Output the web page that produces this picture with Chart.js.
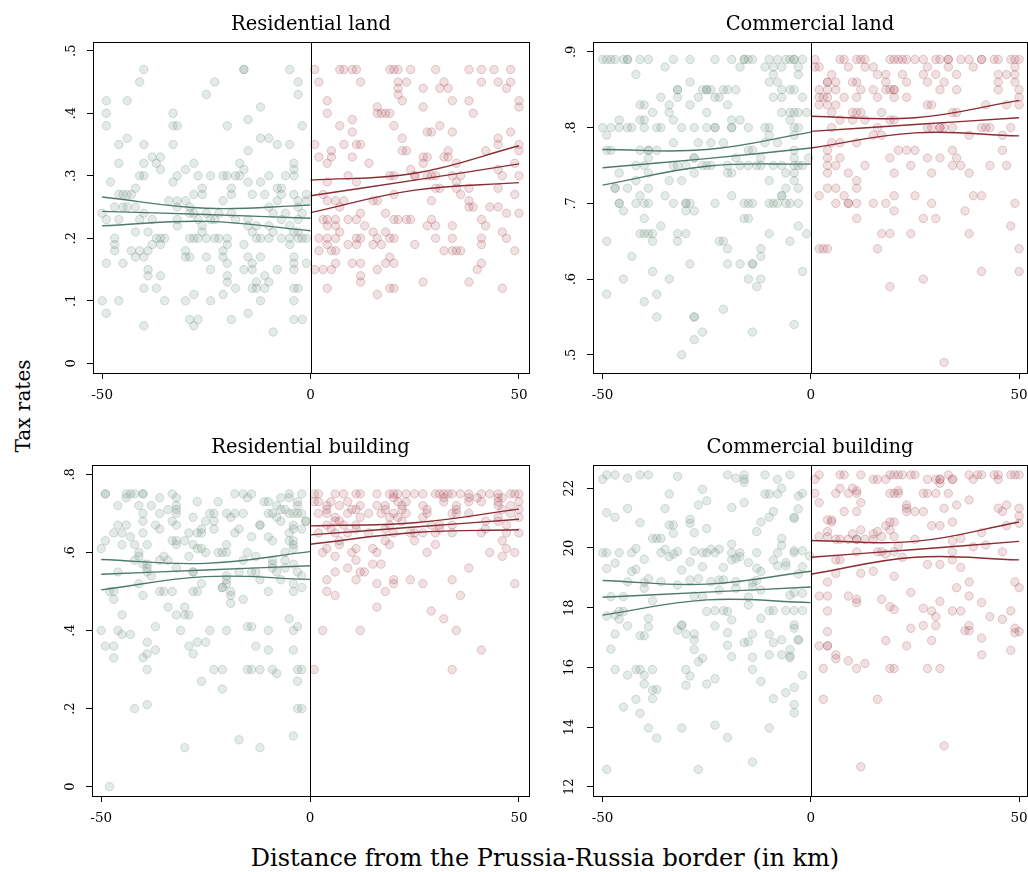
<!DOCTYPE html>
<html>
<head>
<meta charset="utf-8">
<script src="https://cdn.jsdelivr.net/npm/chart.js@4.4.0/dist/chart.umd.min.js"></script>
<style>
html, body { margin: 0; padding: 0; background: #fff; width: 1028px; height: 872px; overflow: hidden; }
#wrap { position: relative; width: 1028px; height: 872px; overflow: hidden; }
canvas { position: absolute; }
.lab { position: absolute; font-family: 'DejaVu Serif', serif; color: #000; white-space: nowrap; transform: translate(-50%, -50%); }
#ylab { left: 23px; top: 406px; font-size: 20px; transform: translate(-50%, -50%) rotate(-90deg); }
#xlab { left: 545px; top: 858px; font-size: 24px; }
</style>
</head>
<body>
<div id="wrap">
  <canvas id="c1" width="542" height="410" style="left:40px;top:0px"></canvas>
  <canvas id="c2" width="540" height="410" style="left:540px;top:0px"></canvas>
  <canvas id="c3" width="543" height="410" style="left:39px;top:423px"></canvas>
  <canvas id="c4" width="540" height="410" style="left:540px;top:423px"></canvas>
  <div class="lab" id="ylab">Tax rates</div>
  <div class="lab" id="xlab">Distance from the Prussia-Russia border (in km)</div>
</div>
<script>
// ticks
const xTicks = [-50, 0, 50];
const resLandTicks = [0, 0.1, 0.2, 0.3, 0.4, 0.5];
const comLandTicks = [0.5, 0.6, 0.7, 0.8, 0.9];
const resBldTicks = [0, 0.2, 0.4, 0.6, 0.8];
const comBldTicks = [12, 14, 16, 18, 20, 22];

// fitted line + bands, read at these distances: [upper, fit, lower]
const westX = [-50, -25, 0];
const eastX = [0, 25, 50];
const resLandFitW = [[0.266, 0.248, 0.253], [0.243, 0.238, 0.232], [0.220, 0.227, 0.212]];
const resLandFitE = [[0.293, 0.304, 0.348], [0.268, 0.293, 0.319], [0.241, 0.277, 0.289]];
const comLandFitW = [[0.771, 0.771, 0.794], [0.747, 0.759, 0.773], [0.724, 0.749, 0.752]];
const comLandFitE = [[0.815, 0.813, 0.836], [0.795, 0.804, 0.813], [0.773, 0.793, 0.789]];
const resBldFitW = [[0.582, 0.572, 0.602], [0.544, 0.555, 0.566], [0.504, 0.538, 0.531]];
const resBldFitE = [[0.668, 0.676, 0.711], [0.645, 0.665, 0.685], [0.621, 0.651, 0.658]];
const comBldFitW = [[18.91, 18.79, 19.22], [18.35, 18.52, 18.69], [17.75, 18.26, 18.17]];
const comBldFitE = [[20.25, 20.22, 20.87], [19.69, 19.95, 20.22], [19.12, 19.69, 19.60]];

// municipalities: [tax rate, [distances...]]
const resLandW = [
  [0.47, [-40, -16, -16, -5]], [0.45, [-41, -23, -3]], [0.43, [-25, -3]], [0.42, [-49, -44]],
  [0.41, [-12]], [0.40, [-49, -33]], [0.39, [-15]], [0.38, [-49, -33, -32, -20, -2]],
  [0.36, [-44, -12, -10]], [0.35, [-46, -40, -33, -8, -5]], [0.34, [-15]], [0.33, [-38, -36]],
  [0.32, [-46, -40, -37, -28, -17, -4]], [0.31, [-36, -30, -16, -4]],
  [0.30, [-41, -40, -32, -27, -24, -21, -20, -18, -17, -10, -6, -4]],
  [0.29, [-48, -33, -15, -12]], [0.28, [-42, -26, -19, -8, -7]],
  [0.27, [-46, -45, -44, -43, -28, -26, -19, -14, -11, -7, -4, -1]],
  [0.26, [-34, -32, -30, -21, -8, -3, -1]], [0.25, [-47, -45, -44, -42, -32, -29, -10, -3]],
  [0.24, [-50, -40, -29, -28, -25, -22, -19, -9, -6, -2]],
  [0.23, [-49, -46, -41, -38, -32, -27, -24, -23, -18, -15, -7, -3]],
  [0.22, [-32, -26, -15, -13, -10, -5]], [0.21, [-42, -39, -26, -14, -9, -4, -3]],
  [0.20, [-47, -37, -36, -35, -29, -28, -27, -25, -23, -22, -20, -13, -12, -10, -7, -5, -3, -2, -1]],
  [0.19, [-47, -38, -36, -20, -16, -5]], [0.18, [-47, -43, -41, -39, -30, -21]],
  [0.17, [-42, -40, -30, -29, -25, -21, -15, -12, -4]], [0.16, [-49, -45, -20, -14, -4, -1]],
  [0.15, [-39, -24, -16, -14, -8, -4]], [0.14, [-39, -36, -20, -11]], [0.13, [-20, -13, -10]],
  [0.12, [-40, -37, -18, -14, -13, -11, -4, -3]], [0.11, [-28, -21]],
  [0.10, [-50, -46, -35, -30, -24, -12, -4]], [0.08, [-49, -15]], [0.07, [-29, -27, -19, -4, -2]],
  [0.06, [-40, -28]], [0.05, [-9]]
];
const resLandE = [
  [0.47, [1, 7, 8, 10, 11, 19, 20, 21, 24, 30, 38, 41, 44, 48]], [0.45, [2, 12, 21, 23, 32, 41, 45, 48]],
  [0.44, [21, 27, 31, 33, 47]], [0.43, [21]], [0.42, [4, 22, 34, 38, 50]], [0.41, [16, 27, 50]],
  [0.40, [4, 16, 17, 18, 19, 39]], [0.39, [10]], [0.38, [7, 20, 31]], [0.37, [10, 28, 29, 34, 48]],
  [0.36, [22, 45]], [0.35, [1, 8, 11, 12, 45, 50]], [0.34, [5, 22, 23, 33, 42, 50]],
  [0.33, [2, 5, 10, 27, 28, 32, 33]], [0.32, [4, 14, 27, 35, 49]], [0.31, [24, 45]],
  [0.30, [9, 19, 20, 25, 25, 28, 29, 30, 34, 36, 46, 50]], [0.29, [4, 11, 35]],
  [0.28, [30, 31, 35, 38, 45]], [0.27, [3, 20, 36, 49]], [0.26, [4, 6, 8, 15, 16, 29, 38]],
  [0.25, [7, 38, 39, 43, 45]], [0.24, [12, 18, 47, 50]],
  [0.23, [3, 4, 6, 9, 11, 20, 21, 23, 24, 29, 41]], [0.22, [4, 6, 13, 28, 30, 34, 42]],
  [0.21, [7, 15, 18, 46]], [0.20, [2, 4, 6, 11, 12, 16, 19, 20, 30, 34, 41, 47]],
  [0.19, [4, 9, 11, 15, 17, 25, 41]], [0.18, [2, 5, 6, 32, 34, 35, 36, 49]], [0.17, [19]],
  [0.16, [6, 10, 12, 18, 20, 41]], [0.15, [1, 3, 5, 16, 40]], [0.14, [12]], [0.13, [12, 27, 38]],
  [0.12, [4, 19, 20, 46]], [0.11, [16]]
];
const comLandW = [
  [0.89, [-50, -49, -48, -47, -45, -44, -44, -41, -39, -33, -29, -23, -19, -16, -16, -15, -14, -10, -8, -6, -5, -4, -4, -2]],
  [0.88, [-35, -17, -11, -9, -7, -3]], [0.87, [-42, -9, -3]], [0.86, [-29, -10, -8]],
  [0.85, [-32, -32, -26, -25, -25, -24, -21, -20, -18, -7, -5, -4]],
  [0.84, [-36, -32, -27, -23, -22, -9, -7, -2]], [0.83, [-41, -40, -34, -29, -20]],
  [0.82, [-38, -34, -25, -7, -5, -4, -3, -1]], [0.81, [-46, -41, -40, -33, -19, -17, -5]],
  [0.80, [-50, -48, -46, -44, -43, -40, -37, -36, -31, -28, -25, -23, -23, -19, -19, -15, -11, -10, -4, -3]],
  [0.79, [-49, -10, -4]], [0.78, [-33, -27, -24, -21, -11, -8]],
  [0.77, [-49, -48, -41, -39, -39, -37, -15, -14, -4]], [0.76, [-39, -28, -28, -18, -12, -4, -0.5]],
  [0.75, [-42, -40, -33, -32, -30, -26, -25, -24, -20, -17, -15, -13, -12, -9, -7, -4, -3, -2]],
  [0.74, [-46, -39, -28, -20, -19, -6, -4]], [0.73, [-42, -34, -31, -10, -4]],
  [0.72, [-47, -47, -44, -39, -6, -3]], [0.71, [-41, -35, -19, -7, -7]],
  [0.70, [-46, -46, -42, -40, -39, -33, -30, -30, -29, -23, -16, -15, -14, -10, -9, -8, -6, -5, -3]],
  [0.69, [-45, -30, -28]], [0.68, [-40, -16, -15]], [0.67, [-36, -3]],
  [0.66, [-41, -40, -39, -38, -32, -30, -10, -1]], [0.65, [-49, -38, -32, -22, -21, -5]],
  [0.64, [-20, -12]], [0.63, [-43, -12]], [0.62, [-29, -20, -17, -14, -14]], [0.61, [-38, -2]],
  [0.60, [-45, -34, -15, -12]], [0.59, [-13]], [0.58, [-49, -37]], [0.57, [-40]], [0.56, [-21]],
  [0.55, [-37, -28, -28]], [0.54, [-4]], [0.53, [-26, -14]], [0.52, [-28]], [0.50, [-31]]
];
const comLandE = [
  [0.89, [1, 7, 8, 11, 12, 13, 19, 20, 21, 22, 23, 25, 27, 30, 31, 33, 33, 36, 38, 41, 41, 44, 45, 48, 49, 50]],
  [0.88, [1, 2, 9, 13, 15, 28, 33, 39, 49]], [0.87, [5, 16, 18, 22, 27, 30, 35, 45, 47, 49]],
  [0.86, [4, 4, 6, 10, 11, 18, 23, 28, 32, 45, 49]],
  [0.85, [2, 4, 6, 12, 15, 18, 19, 20, 20, 31, 35, 45, 50]], [0.84, [2, 3, 4, 8, 11, 16, 20, 23, 50]],
  [0.83, [2, 4, 6, 28, 29, 42, 47, 50]], [0.82, [5, 10, 11, 12, 17, 34, 35]], [0.81, [7, 10, 13, 19, 20]],
  [0.80, [5, 16, 28, 29, 31, 31, 32, 34, 41, 42, 43, 48]], [0.79, [15, 17, 38, 46]], [0.78, [5, 7, 11]],
  [0.77, [4, 21, 23, 25, 34, 46]], [0.76, [4, 7, 19, 28, 31, 35]], [0.75, [4, 6, 13, 24, 34, 36, 43, 47]],
  [0.74, [4, 9, 20, 29, 38]], [0.73, [11]], [0.72, [4, 6, 11]], [0.71, [2, 8, 20, 25, 39, 41]],
  [0.70, [6, 9, 9, 11, 15, 18, 29, 49]], [0.69, [20, 37]], [0.68, [11, 27, 30]], [0.67, [48]],
  [0.66, [17, 19, 24, 38]], [0.64, [2, 3, 4, 16, 50]], [0.61, [41, 50]], [0.60, [27]], [0.59, [19]],
  [0.49, [32]]
];
const resBldW = [
  [0.75, [-49, -49, -44, -43, -42, -40, -40, -33, -18, -16, -14, -5, -2]], [0.74, [-44, -36, -32, -15, -7, -5]],
  [0.73, [-27, -22, -11, -10, -3]], [0.72, [-46, -41, -38, -32, -8, -3]], [0.71, [-34, -32, -7, -6]],
  [0.70, [-40, -36, -32, -24, -23, -20, -18, -16, -10, -9, -5, -4, -3, -2]], [0.69, [-28, -19, -8]],
  [0.68, [-40, -33, -25, -23, -7, -1, -1]], [0.67, [-46, -44, -37, -32, -12, -12, -4]],
  [0.66, [-36, -26, -23, -17, -4, -2]], [0.65, [-47, -45, -40, -29, -27, -26, -18, -5]],
  [0.64, [-43, -14, -10]], [0.63, [-49, -33, -32, -30, -9, -5, -4]],
  [0.62, [-45, -42, -39, -32, -28, -20, -4]], [0.61, [-50, -27, -26, -4]],
  [0.60, [-41, -25, -22, -21, -20, -15, -6]], [0.59, [-41, -35, -29, -13]],
  [0.58, [-42, -36, -34, -16, -9, -6]], [0.57, [-40, -39, -9, -4]], [0.56, [-39, -32, -9, -6]],
  [0.55, [-46, -39, -28, -28, -17, -14, -13, -8, -3]], [0.54, [-38, -20, -2]], [0.53, [-20, -12, -7]],
  [0.52, [-41, -26, -20, -4]], [0.51, [-21, -21, -2]],
  [0.50, [-48, -47, -36, -35, -33, -28, -27, -19, -10, -4]], [0.49, [-40, -19]], [0.48, [-47, -16]],
  [0.47, [-19]], [0.46, [-34, -30]], [0.44, [-45, -32, -30, -29]], [0.43, [-5]],
  [0.41, [-37, -15, -14, -3]], [0.40, [-50, -46, -31, -24, -20, -10, -4]], [0.39, [-45, -43]],
  [0.37, [-39, -27, -25]], [0.36, [-49, -47, -29, -13]], [0.35, [-37, -10, -4]], [0.34, [-39, -28]],
  [0.33, [-47, -40]], [0.30, [-39, -23, -21, -15, -14, -12, -9, -3, -2]], [0.29, [-8]],
  [0.27, [-26, -3]], [0.25, [-21]], [0.21, [-39]], [0.20, [-42, -3, -2]], [0.13, [-4]],
  [0.12, [-17]], [0.10, [-30, -12]], [0, [-48]]
];
const resBldE = [
  [0.75, [1, 2, 6, 8, 11, 12, 16, 19, 20, 21, 23, 25, 27, 30, 31, 32, 33, 34, 36, 38, 41, 43, 45, 48, 49, 50]],
  [0.74, [20, 32, 38, 40, 45, 46]], [0.73, [1, 2, 5, 9, 21, 23, 32, 38, 41, 45, 50]],
  [0.72, [4, 7, 12, 16, 18, 22, 27, 35, 45, 48]], [0.71, [4, 10, 11, 18, 22, 28, 35, 46, 50]],
  [0.70, [2, 4, 9, 14, 17, 20, 23, 28, 34, 35, 38, 48]], [0.69, [6, 12, 19, 21, 27, 45, 50]],
  [0.68, [6, 7, 22, 42, 45]], [0.67, [4, 8, 11, 19, 29, 31, 34, 47]], [0.66, [5, 11, 18, 31, 42]],
  [0.65, [2, 6, 9, 14, 20, 24, 25, 27, 30, 34, 41, 47, 50]], [0.63, [7, 18, 25, 46]],
  [0.62, [7, 19, 30]], [0.61, [4, 11, 15, 47]], [0.60, [3, 10, 16, 28, 43, 49]], [0.59, [6, 46]],
  [0.58, [11]], [0.57, [15, 17]], [0.56, [9, 38]], [0.55, [6, 12, 13]], [0.53, [4, 11, 20, 24, 34]],
  [0.52, [16, 20, 27, 49]], [0.50, [4, 18]], [0.49, [6, 36]], [0.46, [16]], [0.45, [29]],
  [0.43, [32]], [0.40, [3, 12, 35]], [0.35, [41]], [0.30, [1, 34]]
];
// commercial building rates are not on a grid: [distance, rate]
const comBldW = [
  [-50, 22.3], [-49, 22.45], [-47, 22.45], [-44, 22.34], [-41, 22.45], [-39, 22.45], [-32, 22.4], [-20, 22.45],
  [-18, 22.34], [-16, 22.2], [-16, 22.45], [-16, 22.3], [-11, 22.45], [-8, 22.3], [-5, 22.45],
  [-26, 21.97], [-7, 22.0], [-34, 21.81], [-11, 21.81], [-10, 21.81], [-8, 21.81], [-2, 21.83], [-3, 21.74],
  [-16, 21.52], [-25, 21.58], [-27, 21.44], [-49, 21.18], [-44, 21.32], [-35, 21.32], [-19, 21.36],
  [-9, 21.22], [-3, 21.31], [-47, 21.03], [-10, 21.03], [-12, 20.87], [-4, 20.99], [-4, 21.03],
  [-41, 20.85], [-34, 20.77], [-33, 20.77], [-29, 20.96], [-29, 20.83], [-25, 20.65], [-28, 20.51],
  [-33, 20.49], [-13, 20.55], [-38, 20.32], [-37, 20.32], [-36, 20.32], [-7, 20.32], [-7, 20.09],
  [-50, 19.84], [-49, 19.84], [-46, 19.84], [-43, 19.84], [-42, 19.98], [-36, 19.84], [-35, 19.96],
  [-34, 19.71], [-33, 19.8], [-32, 19.88], [-28, 19.89], [-26, 19.84], [-25, 19.84], [-24, 19.96],
  [-23, 19.84], [-22, 19.96], [-19, 20.13], [-19, 19.84], [-17, 19.84], [-13, 19.84], [-8, 19.84],
  [-4, 19.91], [-4, 19.84], [-2, 19.91], [-0.3, 19.73],
  [-47, 19.49], [-49, 19.31], [-40, 19.62], [-43, 19.21], [-42, 19.29], [-31, 19.26], [-29, 19.54],
  [-26, 19.37], [-19, 19.6], [-21, 19.35], [-18, 19.65], [-17, 19.71], [-15, 19.51], [-13, 19.32],
  [-12, 19.21], [-9, 19.6], [-8, 19.4], [-6, 19.4], [-6, 19.51], [-2, 19.37], [-3, 19.13],
  [-48, 18.37], [-45, 18.37], [-44, 18.87], [-40, 18.65], [-40, 18.84], [-39, 18.97], [-38, 18.23],
  [-36, 18.87], [-32, 18.76], [-29, 18.93], [-28, 18.39], [-27, 18.97], [-26, 18.37], [-24, 18.87],
  [-22, 18.93], [-22, 18.59], [-21, 18.93], [-18, 18.87], [-18, 18.65], [-15, 18.35], [-15, 18.09],
  [-14, 18.7], [-14, 18.84], [-13, 18.91], [-12, 18.59], [-5, 18.42], [-4, 18.5], [-2, 18.48],
  [-49, 17.72], [-47, 17.75], [-46, 17.61], [-45, 17.87], [-46, 17.87], [-44, 17.39], [-39, 17.36],
  [-39, 17.64], [-41, 17.06], [-40, 17.06], [-47, 17.12], [-32, 17.25], [-31, 17.42], [-31, 17.4],
  [-30, 17.12], [-28, 17.12], [-28, 16.92], [-25, 17.87], [-23, 17.39], [-23, 17.9], [-21, 17.9],
  [-20, 17.87], [-19, 17.59], [-20, 17.16], [-16, 16.83], [-15, 16.86], [-14, 17.12], [-12, 17.64],
  [-10, 17.11], [-10, 17.9], [-9, 16.83], [-9, 17.9], [-7, 16.92], [-6, 17.9], [-4, 17.9], [-4, 17.31],
  [-4, 17.42], [-3, 16.92], [-3, 16.92], [-2, 17.9], [-5, 16.59],
  [-47, 15.93], [-48, 16.61], [-42, 15.93], [-41, 15.93], [-38, 15.93], [-40, 15.74], [-44, 15.74],
  [-40, 15.44], [-38, 15.24], [-37, 15.26], [-38, 14.95], [-42, 14.93], [-45, 14.67], [-41, 14.46],
  [-30, 15.93], [-29, 15.71], [-30, 15.4], [-27, 16.19], [-26, 16.31], [-28, 16.6], [-25, 15.44],
  [-23, 15.62], [-20, 16.74], [-19, 16.36], [-14, 16.34], [-14, 15.93], [-12, 15.53], [-10, 16.42],
  [-7, 16.42], [-5, 16.38], [-5, 16.32], [-2, 15.74], [-4, 15.33], [-6, 15.15], [-9, 14.95],
  [-4, 14.75], [-4, 14.48], [-39, 13.97], [-31, 13.97], [-23, 14.06], [-10, 13.97], [-37, 13.63],
  [-20, 13.65], [-14, 12.83], [-49, 12.58], [-27, 12.58]
];
const comBldE = [
  [22.45, [2, 7, 8, 12, 19, 20, 21, 22, 24, 25, 33, 38, 40, 41, 44, 45, 48, 49, 50]],
  [22.3, [1, 15, 16, 18, 28, 30, 31, 31, 34, 34, 39, 45]], [22.17, [31]], [22.0, [7, 10]],
  [21.92, [11, 21]], [21.83, [1, 6, 9, 11, 19, 20, 21, 27, 28, 30, 33]], [21.61, [38]],
  [21.52, [2, 12]], [21.44, [23, 35, 47]], [21.33, [23, 32, 45, 50]], [21.22, [8, 11, 23, 25, 27, 46]],
  [21.07, [50]], [20.94, [4, 5]], [20.87, [5, 19, 20, 34]], [20.83, [50]], [20.75, [18, 29, 31, 47]],
  [20.6, [12, 19]], [20.55, [4, 16]], [20.51, [41]], [20.47, [10, 15]], [20.38, [2, 4, 17, 20]],
  [20.32, [36]], [20.29, [6, 7, 9, 11, 11, 13, 15, 25]], [20.22, [34]], [20.1, [42]], [20.07, [21]],
  [20.04, [39]], [19.87, [11, 16, 17, 20, 34, 46]], [19.8, [18]], [19.69, [22]], [19.6, [6, 7, 34]],
  [19.45, [28, 31]], [19.35, [36]], [19.22, [15]], [19.15, [6, 12]], [19.05, [20]], [18.86, [4, 38, 49]],
  [18.67, [35, 50]], [18.51, [24]], [18.39, [2, 4, 9, 38]], [18.28, [11, 17]], [18.21, [31]],
  [18.17, [11, 41]], [18.03, [19]], [17.98, [27]], [17.94, [20]], [17.89, [4, 29, 34, 36, 48]],
  [17.7, [30, 43]], [17.61, [46]], [17.4, [27, 30, 38]], [17.31, [24, 49]], [17.23, [37, 38]],
  [17.2, [4, 50]], [17.16, [49]], [16.98, [41]], [16.9, [18, 29]], [16.72, [2, 4, 4, 23]],
  [16.57, [48]], [16.42, [6, 41]], [16.29, [6]], [16.22, [9]], [16.13, [13]],
  [15.96, [3, 11, 19, 20, 28, 31]], [14.93, [3, 16]], [13.37, [32]], [12.67, [12]]
];

const GREEN_PT = 'rgba(110,145,125,0.19)';
const GREEN_EDGE = 'rgba(110,145,125,0.27)';
const GREEN_LINE = '#4e7b69';
const RED_PT = 'rgba(160,60,75,0.16)';
const RED_EDGE = 'rgba(160,60,75,0.24)';
const RED_LINE = '#8b2c32';
const FONT = 'DejaVu Serif';

Chart.defaults.font.family = FONT;
Chart.defaults.color = '#000';

function rows(list) {
    return list.flatMap(([y, xs]) => xs.map(x => ({ x, y })));
}
function pairs(list) {
    return list.map(([x, y]) => ({ x, y }));
}
function fitSets(xs, fit, color) {
    return fit.map(vals => ({
        data: xs.map((x, i) => ({ x, y: vals[i] })),
        showLine: true,
        borderColor: color,
        borderWidth: 1.4,
        pointRadius: 0,
        tension: 0.4,
        fill: false,
        order: 0
    }));
}
function pointSet(data, fill, edge) {
    return { data, backgroundColor: fill, borderColor: edge, borderWidth: 1, pointRadius: 4.2, order: 1 };
}
function fmtTick(v) {
    if (v === 0 || Math.abs(v) >= 1) return String(v);
    return String(v).replace(/^0\./, '.');
}

// box round the plot and the border line at 0
const framePlugin = {
    id: 'frame',
    afterDatasetsDraw(chart) {
        const { ctx, chartArea: a, scales } = chart;
        const x0 = Math.round(scales.x.getPixelForValue(0)) + 0.5;
        ctx.save();
        ctx.strokeStyle = '#000';
        ctx.lineWidth = 1;
        ctx.beginPath();
        ctx.moveTo(x0, a.top);
        ctx.lineTo(x0, a.bottom);
        ctx.stroke();
        ctx.strokeRect(Math.round(a.left) + 0.5, Math.round(a.top) + 0.5,
                       Math.round(a.right - a.left), Math.round(a.bottom - a.top));
        ctx.restore();
    }
};

function buildChart(id, p) {
    new Chart(document.getElementById(id), {
        type: 'scatter',
        data: {
            datasets: [
                ...fitSets(westX, p.fitW, GREEN_LINE),
                ...fitSets(eastX, p.fitE, RED_LINE),
                pointSet(p.west, GREEN_PT, GREEN_EDGE),
                pointSet(p.east, RED_PT, RED_EDGE)
            ]
        },
        options: {
            responsive: false,
            animation: false,
            events: [],
            layout: { padding: 0 },
            plugins: {
                legend: { display: false },
                tooltip: { enabled: false },
                title: {
                    display: true, text: p.title, color: '#000',
                    font: { family: FONT, size: 19.5, weight: 'normal' },
                    padding: { top: 13.5, bottom: 5.1 }
                }
            },
            scales: {
                x: {
                    type: 'linear', min: p.xMin, max: p.xMax,
                    afterBuildTicks: s => { s.ticks = xTicks.map(v => ({ value: v })); },
                    afterFit: s => { s.height = 37; },
                    ticks: { maxRotation: 0, padding: 8, color: '#000', font: { family: FONT, size: 13.5 } },
                    grid: { display: true, drawOnChartArea: false, drawTicks: true, tickLength: 6, color: '#000' },
                    border: { display: true, color: '#000' }
                },
                y: {
                    type: 'linear', min: p.yMin, max: p.yMax,
                    afterBuildTicks: s => { s.ticks = p.yTicks.map(v => ({ value: v })); },
                    afterFit: s => { s.width = 53; },
                    ticks: {
                        minRotation: 90, maxRotation: 90, crossAlign: 'center', padding: 9,
                        color: '#000', font: { family: FONT, size: 13 },
                        callback: v => fmtTick(v)
                    },
                    grid: { display: true, drawOnChartArea: false, drawTicks: true, tickLength: 6, color: '#000' },
                    border: { display: true, color: '#000' }
                },
                // empty right margin so the title centres over the plot
                pad: {
                    type: 'linear', position: 'right', display: true,
                    afterFit: s => { s.width = 53; },
                    ticks: { display: false },
                    grid: { display: false },
                    border: { display: false }
                }
            }
        },
        plugins: [framePlugin]
    });
}

buildChart('c1', {
    title: 'Residential land', xMin: -52.2, xMax: 52.4, yMin: -0.0155, yMax: 0.514,
    yTicks: resLandTicks, west: rows(resLandW), east: rows(resLandE), fitW: resLandFitW, fitE: resLandFitE
});
buildChart('c2', {
    title: 'Commercial land', xMin: -52.3, xMax: 51.9, yMin: 0.476, yMax: 0.913,
    yTicks: comLandTicks, west: rows(comLandW), east: rows(comLandE), fitW: comLandFitW, fitE: comLandFitE
});
buildChart('c3', {
    title: 'Residential building', xMin: -52.2, xMax: 52.4, yMin: -0.024, yMax: 0.824,
    yTicks: resBldTicks, west: rows(resBldW), east: rows(resBldE), fitW: resBldFitW, fitE: resBldFitE
});
buildChart('c4', {
    title: 'Commercial building', xMin: -52.3, xMax: 51.9, yMin: 11.69, yMax: 22.78,
    yTicks: comBldTicks, west: pairs(comBldW), east: rows(comBldE), fitW: comBldFitW, fitE: comBldFitE
});
</script>
</body>
</html>
